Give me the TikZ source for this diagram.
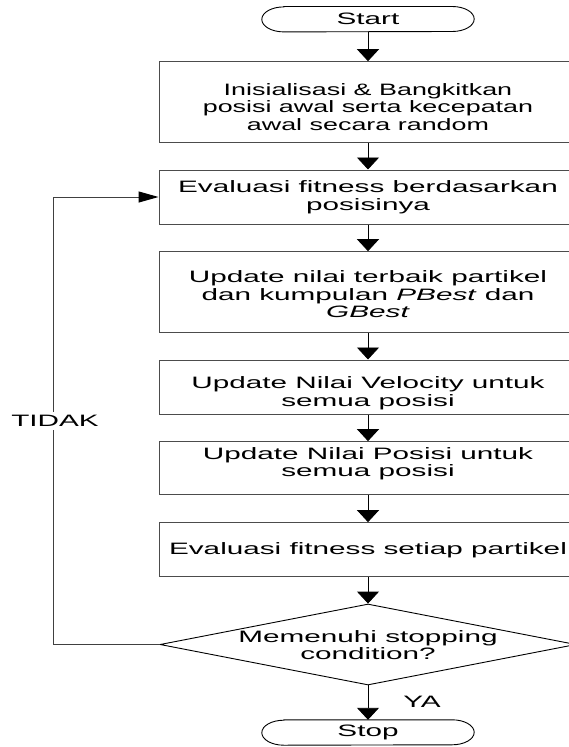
\documentclass[tikz,border=0pt]{standalone}
\usepackage{fontspec}
\setmainfont[FakeStretch=1.8]{Liberation Sans}
\newfontfamily\narrowsans[FakeStretch=1.63]{Liberation Sans}
\usetikzlibrary{arrows.meta,shapes.geometric}
\begin{document}
\begin{tikzpicture}[x=1pt,y=-1pt,
  font=\fontsize{16.5}{17.5}\selectfont,
  box/.style={rectangle, draw=black!70, line width=1pt, minimum width=418pt, inner sep=0pt},
  term/.style={rectangle, minimum width=212pt, minimum height=25pt, inner sep=0pt},
  termline/.style={draw=black, line width=0.9pt},
  decision/.style={diamond, draw=black, line width=0.9pt, minimum width=416pt, minimum height=81pt, inner sep=0pt, aspect=5.1},
  lbl/.style={align=center, inner sep=1pt},
  varr/.style={draw=black, line width=0.9pt, -{Triangle[length=12pt,width=22pt]}},
  harr/.style={draw=black!75, line width=1pt, -{Triangle[length=20pt,width=11pt,fill=black,color=black]}}
]
\useasboundingbox (0,0) rectangle (568,747);

% Start terminal
\node[term] (start) at (368,19.2) {Start};
\draw[termline] ([xshift=22pt]start.north west) -- ([xshift=-22pt]start.north east)
  arc[start angle=90, end angle=-90, x radius=22pt, y radius=12.5pt]
  -- ([xshift=22pt]start.south west)
  arc[start angle=270, end angle=90, x radius=22pt, y radius=12.5pt] -- cycle;

% Process boxes
\node[box, minimum height=81pt] (b1) at (368,102.2) {};
\node[lbl] (t1) at ([yshift=-4.5pt]b1.center)
  {\narrowsans Inisialisasi \& Bangkitkan\\\narrowsans posisi awal serta kecepatan\\\narrowsans awal secara random};
\node[box, minimum height=54pt] (b2) at (368,197) {};
\node[lbl] (t2) at (b2.center) {Evaluasi fitness berdasarkan\\posisinya};
\node[box, minimum height=81pt] (b3) at (368,292.2) {};
\node[lbl] (t3) at ([yshift=-2pt]b3.center)
  {Update nilai terbaik partikel\\dan kumpulan \textit{PBest} dan\\\textit{GBest}};
\node[box, minimum height=54pt] (b4) at (368,387) {};
\node[lbl] (t4) at ([yshift=-6pt]b4.center) {Update Nilai Velocity untuk\\semua posisi};
\node[box, minimum height=53.3pt] (b5) at (368,468.3) {};
\node[lbl] (t5) at ([yshift=4.5pt]b5.center) {Update Nilai Posisi untuk\\semua posisi};
\node[box, minimum height=54.3pt] (b6) at (368,549.8) {};
\node[lbl] (t6) at (b6.center) {Evaluasi fitness setiap partikel};

% Decision
\node[decision] (d) at (368,644.5) {};
\node[lbl] (dt) at (368,645) {Memenuhi stopping\\condition?};

% Stop terminal
\node[term] (stop) at (368,732.5) {Stop};
\draw[termline] ([xshift=22pt]stop.north west) -- ([xshift=-22pt]stop.north east)
  arc[start angle=90, end angle=-90, x radius=22pt, y radius=12.5pt]
  -- ([xshift=22pt]stop.south west)
  arc[start angle=270, end angle=90, x radius=22pt, y radius=12.5pt] -- cycle;

% Main flow
\draw[varr] (start.south) -- (b1.north);
\draw[varr] (b1.south) -- (b2.north);
\draw[varr] (b2.south) -- (b3.north);
\draw[varr] (b3.south) -- (b4.north);
\draw[varr] (b4.south) -- (b5.north);
\draw[varr] (b5.south) -- (b6.north);
\draw[varr] (b6.south) -- (d.north);
\draw[varr] (d.south) -- (stop.north);

% Loop back
\coordinate (lt) at (53.7,197);
\draw[harr] (d.west) -- (d.west -| lt) -- (lt) -- (b2.west);
\node[fill=white, inner xsep=2pt, inner ysep=3pt] (tidak) at (55,421) {TIDAK};

% Labels
\node[lbl] (ya) at (422,702) {YA};
\end{tikzpicture}
\end{document}
